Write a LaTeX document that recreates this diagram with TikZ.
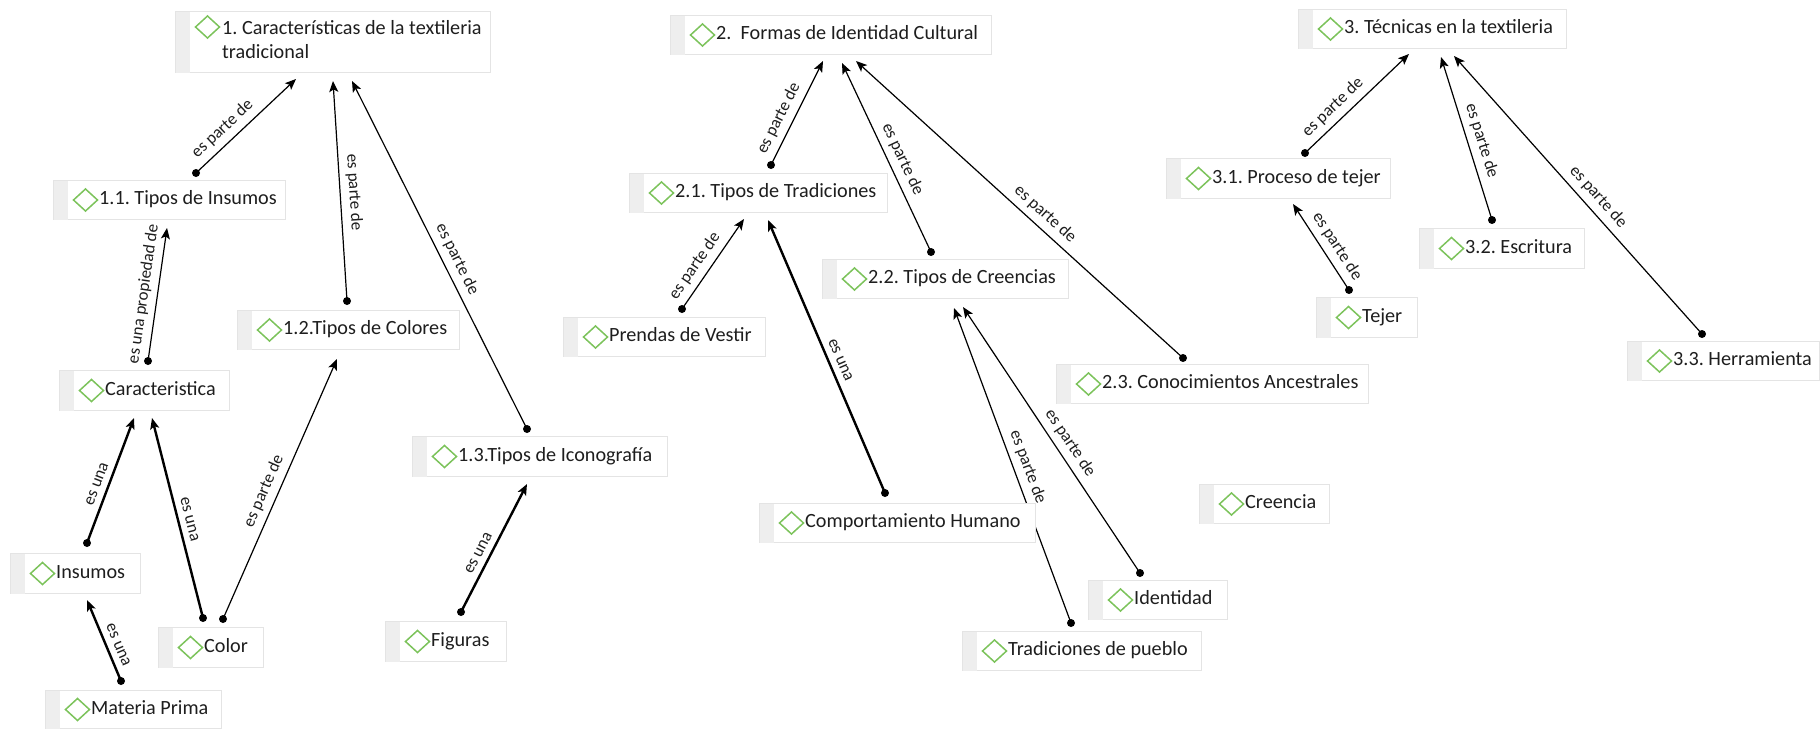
\documentclass[tikz,border=0pt]{standalone}
\usepackage{fontspec}
\setmainfont{Carlito}
\frenchspacing
\usetikzlibrary{arrows.meta,calc}
\definecolor{boxline}{HTML}{E4E4E4}
\definecolor{stripc}{HTML}{EEEEEE}
\definecolor{dmdgreen}{HTML}{7CC35B}
\definecolor{txt}{HTML}{1E1E1E}
\pgfdeclarelayer{bg}
\pgfsetlayers{bg,main}
\tikzset{
  cbox/.style={draw=boxline, line width=1pt, fill=white, inner sep=0pt, rectangle},
  dmdline/.style={draw=dmdgreen, line width=1.5pt, line join=miter},
  ntext/.style={inner sep=0pt, text=txt, font=\fontsize{20.2}{24}\selectfont, text height=14pt, text depth=4.5pt},
  conn/.style={line width=1.2pt, -{Stealth[length=11pt,width=9pt,inset=2.5pt]}},
  thickconn/.style={conn, line width=2.4pt},
  elab/.style={sloped, above, inner sep=6pt, font=\fontsize{17}{20}\selectfont, text=txt},
}
\newcommand{\cnode}[6]{%
  \node[cbox, anchor=north west, minimum width={(#4-#2)*1pt}, minimum height={(#5-#3)*1pt}] (#1) at (#2,#3) {};
  \fill[stripc] ([shift={(0.5pt,-0.5pt)}]#1.north west) rectangle ([shift={(15pt,0.5pt)}]#1.south west);
  \draw[dmdline] ([xshift=20.5pt]#1.west) -- ++(12pt,11pt) -- ++(12pt,-11pt) -- ++(-12pt,-11pt) -- cycle;
  \node[ntext, anchor=west] (#1t) at ([xshift=46pt]#1.west) {#6};
}
\newcommand{\rel}[7]{%
  \begin{pgfonlayer}{bg}
  \draw[#1] ([shift={#3}]#2.north west) coordinate (tmpdot) -- node[elab,pos=#6]{#7} ([shift={#5}]#4.south west);
  \fill (tmpdot) circle[radius=4pt];
  \end{pgfonlayer}
}
\begin{document}
\begin{tikzpicture}[x=1pt,y=-1pt]
\begin{pgfonlayer}{bg}
\fill[white] (0,0) rectangle (1820,728);
\end{pgfonlayer}
\useasboundingbox (0,0) rectangle (1820,728);

% section 1
\node[cbox, anchor=north west, minimum width=315pt, minimum height=61pt] (n1) at (175,11) {};
\fill[stripc] ([shift={(0.5pt,-0.5pt)}]n1.north west) rectangle ([shift={(15pt,0.5pt)}]n1.south west);
\draw[dmdline] ([shift={(20.5pt,-16pt)}]n1.north west) -- ++(12pt,11pt) -- ++(12pt,-11pt) -- ++(-12pt,-11pt) -- cycle;
\node[inner sep=0pt, text=txt, font=\fontsize{20.2}{24}\selectfont, anchor=base west, align=left] (n1t) at (222,58.5) {1. Características de la textileria\\tradicional};

\cnode{n11}{53}{180}{285}{219}{1.1. Tipos de Insumos}
\cnode{n12}{237}{310}{459}{349}{1.2.Tipos de Colores}
\cnode{n13}{412}{436}{667}{476}{1.3.Tipos de Iconografía}
\cnode{car}{59}{370}{229}{410}{Caracteristica}
\cnode{ins}{10}{553}{140}{593}{Insumos}
\cnode{col}{158}{627}{263}{667}{Color}
\cnode{fig}{385}{621}{506}{661}{Figuras}
\cnode{mat}{45}{690}{221}{728}{Materia Prima}

% section 2
\cnode{n2}{670}{15}{991}{54}{2.\ \ Formas de Identidad Cultural}
\cnode{n21}{629}{173}{887}{212}{2.1. Tipos de Tradiciones}
\cnode{n22}{822}{259}{1068}{298}{2.2. Tipos de Creencias}
\cnode{n23}{1056}{364}{1368}{403}{2.3. Conocimientos Ancestrales}
\cnode{pre}{563}{317}{765}{356}{Prendas de Vestir}
\cnode{com}{759}{503}{1035}{542}{Comportamiento Humano}
\cnode{tra}{962}{631}{1201}{670}{Tradiciones de pueblo}
\cnode{ide}{1088}{580}{1227}{619}{Identidad}
\cnode{cre}{1199}{484}{1329}{523}{Creencia}

% section 3
\cnode{n3}{1298}{9}{1566}{48}{3. Técnicas en la textileria}
\cnode{n31}{1166}{158}{1390}{198}{3.1. Proceso de tejer}
\cnode{n32}{1419}{228}{1584}{268}{3.2. Escritura}
\cnode{n33}{1627}{341}{1819}{380}{3.3. Herramienta}
\cnode{tej}{1316}{297}{1417}{337}{Tejer}

% connectors
\rel{conn}{n11}{(143,-7)}{n1}{(121,6)}{0.36}{es parte de}
\rel{conn}{n12}{(110,-9)}{n1}{(158,8)}{0.49}{es parte de}
\rel{conn}{n13}{(115,-7)}{n1}{(177,8)}{0.47}{es parte de}
\rel{conn}{car}{(89,-9)}{n11}{(114,8)}{0.49}{es una propiedad de}
\rel{thickconn}{ins}{(77,-10)}{car}{(75,7)}{0.44}{es una}
\rel{thickconn}{col}{(45,-9)}{car}{(93,7)}{0.48}{es una}
\rel{conn}{col}{(65,-8)}{n12}{(100,9)}{0.47}{es parte de}
\rel{thickconn}{mat}{(76,-9)}{ins}{(77,6)}{0.39}{es una}
\rel{thickconn}{fig}{(76,-9)}{n13}{(115,7)}{0.42}{es una}

\rel{conn}{n21}{(142,-8)}{n2}{(153,6)}{0.39}{es parte de}
\rel{conn}{n22}{(109,-7)}{n2}{(172,8)}{0.46}{es parte de}
\rel{conn}{n23}{(127,-6)}{n2}{(186,6)}{0.45}{es parte de}
\rel{conn}{pre}{(119,-8)}{n21}{(115,6)}{0.39}{es parte de}
\rel{thickconn}{com}{(126,-10)}{n21}{(139,7)}{0.47}{es una}
\rel{conn}{tra}{(109,-8)}{n22}{(132,9)}{0.48}{es parte de}
\rel{conn}{ide}{(52,-7)}{n22}{(141,8)}{0.46}{es parte de}

\rel{conn}{n31}{(139,-5)}{n3}{(111,5)}{0.36}{es parte de}
\rel{conn}{n32}{(73,-8)}{n3}{(143,8)}{0.46}{es parte de}
\rel{conn}{n33}{(75,-7)}{n3}{(156,7)}{0.46}{es parte de}
\rel{conn}{tej}{(33,-7)}{n31}{(127,5)}{0.42}{es parte de}
\end{tikzpicture}
\end{document}
